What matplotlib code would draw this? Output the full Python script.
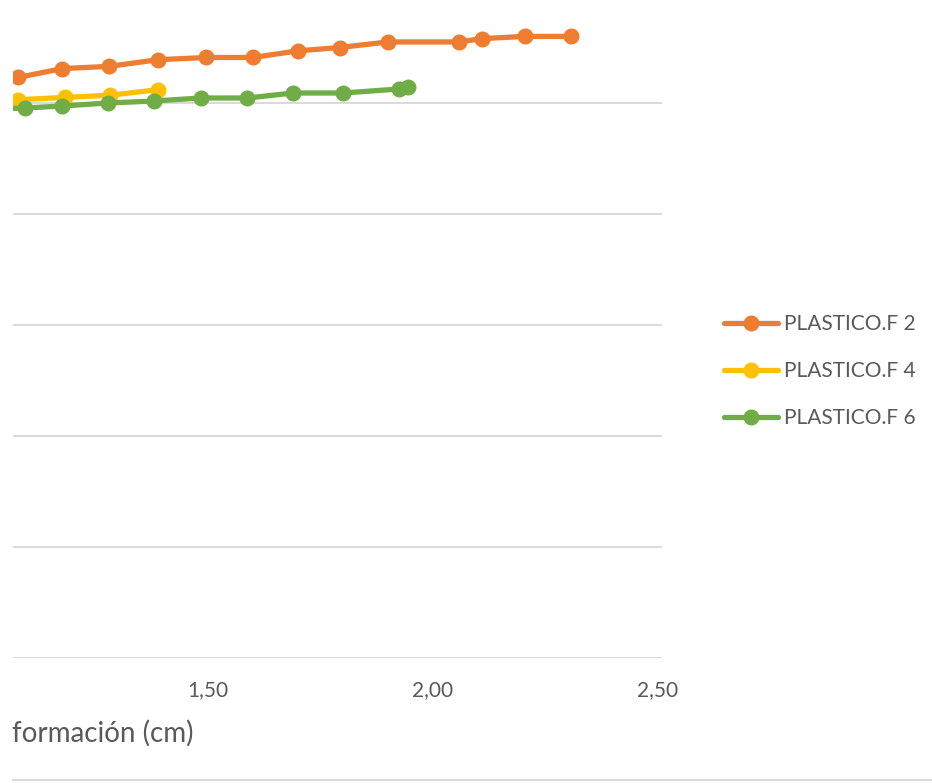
import matplotlib.pyplot as plt
from matplotlib.lines import Line2D

# Deformación (cm) vs carga, series
x_f2 = [1.078, 1.176, 1.280, 1.389, 1.496, 1.600, 1.700, 1.793, 1.900, 2.058, 2.109, 2.204, 2.307]
y_f2 = [5.23, 5.31, 5.33, 5.39, 5.41, 5.41, 5.47, 5.50, 5.55, 5.55, 5.58, 5.60, 5.60]

x_f4 = [1.078, 1.182, 1.282, 1.389]
y_f4 = [5.03, 5.05, 5.07, 5.12]

x_f6 = [0.990, 1.093, 1.176, 1.278, 1.380, 1.484, 1.587, 1.689, 1.800, 1.924, 1.944]
y_f6 = [4.94, 4.955, 4.973, 5.00, 5.018, 5.045, 5.045, 5.09, 5.09, 5.126, 5.144]

labels = ['PLASTICO.F 2', 'PLASTICO.F 4', 'PLASTICO.F 6']
colors = ['#ED7D31', '#FFC000', '#70AD47']
xticks = [1.5, 2.0, 2.5]
xtick_labels = ['1,50', '2,00', '2,50']

plt.rcParams['font.family'] = ['Lato', 'DejaVu Sans']

W, H = 932, 783
fig = plt.figure(figsize=(W / 100, H / 100), dpi=100)
left, right, bottom = 13, 662, 658
ax = fig.add_axes([left / W, (H - bottom) / H, (right - left) / W, bottom / H])

x_px0 = 1.5 - (208 - left) / 450
ax.set_xlim(x_px0, 2.5 + (right - 658) / 450)
ax.set_ylim(0, bottom / 111)

for xs, ys, lab, c in zip([x_f2, x_f4, x_f6], [y_f2, y_f4, y_f6], labels, colors):
    ax.plot(xs, ys, color=c, lw=3.8, marker='o', ms=10.5, label=lab,
            solid_capstyle='round', zorder=3)

ax.set_yticks([0, 1, 2, 3, 4, 5])
ax.yaxis.grid(True, color='#D9D9D9', lw=1.4)
ax.set_axisbelow(True)
for s in ax.spines.values():
    s.set_visible(False)
ax.tick_params(axis='y', left=False, labelleft=False)
ax.set_xticks(xticks)
ax.set_xticklabels(xtick_labels, color='#595959', fontsize=15)
ax.tick_params(axis='x', length=0, pad=16)

fig.text(12 / W, 1 - 733 / H, 'formación (cm)', color='#595959', fontsize=20,
         ha='left', va='center')

fig.add_artist(Line2D([left / W, 1], [1 - 780 / H, 1 - 780 / H], color='#D9D9D9', lw=1.5))

leg = ax.legend(loc='center left', bbox_to_anchor=(705 / W, 1 - 371 / H),
                bbox_transform=fig.transFigure, frameon=False, fontsize=15,
                handlelength=2.6, handletextpad=0.3, labelspacing=1.3)
for t in leg.get_texts():
    t.set_color('#595959')

fig.savefig('out.png', dpi=100)
